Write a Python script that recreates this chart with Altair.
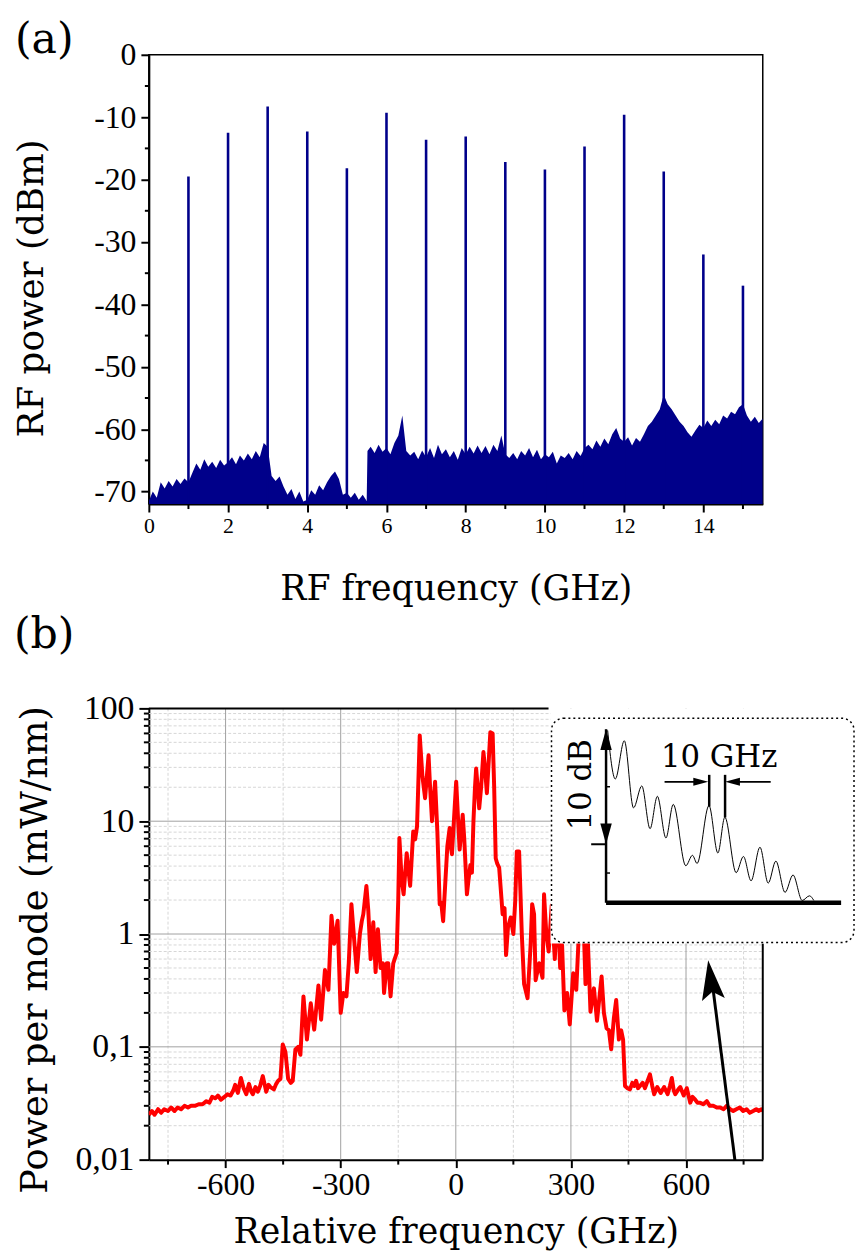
import altair as alt
import pandas as pd

# ---------------- panel (a) data ----------------
spike_ghz = [1, 2, 3, 4, 5, 6, 7, 8, 9, 10, 11, 12, 13, 14, 15]
spike_dbm = [-19.5, -12.5, -8.3, -12.3, -18.2, -9.3, -13.6, -13.1, -17.2, -18.4,
             -14.7, -9.6, -18.7, -32.0, -37.0]

floor_ghz = [0.0, 0.1, 0.2, 0.3, 0.4, 0.5, 0.6, 0.7, 0.8, 0.9,
             1.0, 1.1, 1.2, 1.3, 1.4, 1.5, 1.6, 1.7, 1.8, 1.9,
             2.0, 2.1, 2.2, 2.3, 2.4, 2.5, 2.6, 2.7, 2.8, 2.9,
             3.0, 3.1, 3.2, 3.3, 3.4, 3.5, 3.6, 3.7, 3.8, 3.9,
             4.0, 4.1, 4.2, 4.3, 4.4, 4.5, 4.6, 4.7, 4.8, 4.9,
             5.0, 5.1, 5.2, 5.3, 5.4, 5.5, 5.52, 5.6, 5.7, 5.8, 5.9,
             6.0, 6.1, 6.2, 6.3, 6.4, 6.5, 6.6, 6.7, 6.8, 6.9,
             7.0, 7.1, 7.2, 7.3, 7.4, 7.5, 7.6, 7.7, 7.8, 7.9,
             8.0, 8.1, 8.2, 8.3, 8.4, 8.5, 8.6, 8.7, 8.8, 8.9,
             9.0, 9.1, 9.2, 9.3, 9.4, 9.5, 9.6, 9.7, 9.8, 9.9,
             10.0, 10.1, 10.2, 10.3, 10.4, 10.5, 10.6, 10.7, 10.8, 10.9,
             11.0, 11.1, 11.2, 11.3, 11.4, 11.5, 11.6, 11.7, 11.8, 11.9,
             12.0, 12.1, 12.2, 12.3, 12.4, 12.5, 12.6, 12.7, 12.8, 12.9,
             13.0, 13.1, 13.2, 13.3, 13.4, 13.5, 13.6, 13.7, 13.8, 13.9,
             14.0, 14.1, 14.2, 14.3, 14.4, 14.5, 14.6, 14.7, 14.8, 14.9,
             15.0, 15.1, 15.2, 15.3, 15.4, 15.5]
floor_dbm = [-71.5, -70.0, -71.0, -68.5, -69.5, -68.3, -69.2, -68.0, -68.8, -67.9,
             -68.5, -67.0, -65.5, -66.5, -64.8, -66.0, -65.2, -66.2, -64.9, -65.8,
             -65.3, -64.5, -65.6, -64.2, -65.0, -63.9, -64.8, -63.5, -64.5, -62.2,
             -62.8, -67.5, -68.3, -67.6, -69.2, -70.5, -69.6, -71.2, -70.0, -71.6,
             -71.3, -69.8, -70.5, -69.0, -69.8, -68.5, -67.5, -66.8, -68.0, -70.5,
             -70.2, -71.0, -70.2, -71.3, -70.5, -71.5, -63.5, -62.8, -63.8, -62.5, -63.6,
             -63.0, -64.0, -62.2, -61.0, -57.8, -63.5, -64.2, -63.6, -64.8, -63.4,
             -64.5, -63.0, -64.6, -62.5, -64.0, -63.2, -64.5, -63.5, -64.9, -63.0,
             -64.0, -62.8, -63.9, -62.6, -63.8, -62.7, -64.0, -62.5, -63.5, -61.0,
             -64.0, -64.6, -63.8, -64.8, -63.5, -64.2, -63.0, -64.5, -63.3, -64.8,
             -64.0, -64.5, -63.6, -65.5, -64.2, -64.6, -63.8, -64.8, -63.5, -64.3,
             -63.0, -62.5, -63.2, -61.8, -62.8, -61.5, -62.4, -60.8, -59.8, -61.5,
             -62.0, -61.3, -62.6, -61.4, -62.0, -60.8, -59.5, -58.8, -57.8, -56.8,
             -54.5, -56.0, -56.8, -57.8, -58.8, -59.5, -60.5, -61.2, -60.2, -59.3,
             -59.8, -58.6, -59.5, -58.5, -59.2, -57.8, -58.3, -57.2, -57.6, -56.5,
             -56.0, -57.8, -58.8, -58.0, -59.0, -58.3]

a_xticks = [0, 2, 4, 6, 8, 10, 12, 14]
a_xminor = [1, 3, 5, 7, 9, 11, 13, 15]
a_yticks = [0, -10, -20, -30, -40, -50, -60, -70]
a_yminor = [-5, -15, -25, -35, -45, -55, -65]

# ---------------- panel (b) data ----------------
spec_ghz = [-800, -792, -785, -776, -768, -760, -750, -742, -733, -725, -716, -707, -698, -690,
            -680, -670, -660, -650, -642, -635, -627, -620, -612, -603, -595, -587, -580, -575,
            -568, -560, -553, -546, -539, -533, -529, -522, -516, -510, -503, -494, -488, -483,
            -474, -468, -463, -457, -451, -444, -437, -430, -425, -418, -411, -405, -397, -388,
            -378, -369, -358, -351, -341, -332, -324, -317, -308, -300, -293, -285, -279, -272,
            -265, -258, -250, -245, -241, -233, -228, -222, -215, -209, -203, -196, -190, -187,
            -180, -176, -170, -163, -154, -150, -147, -141, -136, -128, -119, -111, -106, -101,
            -94, -87, -80, -71, -67, -62, -54, -48, -42, -38, -33, -27, -22, -16, -13, -10, -5,
            1, 5, 10, 18, 22, 29, 33, 38, 42, 46, 50, 53, 57, 61, 66, 72, 76, 81, 86, 90, 96,
            100, 104, 108, 113, 122, 127, 131, 136, 143, 150, 155, 159, 165, 172, 178, 187, 195,
            199, 204, 208, 217, 226, 230, 236, 242, 250, 258, 265, 272, 277, 283, 290, 297, 306,
            314, 320, 327, 334, 338, 344, 351, 360, 368, 380, 386, 393, 399, 405, 412, 418, 425,
            431, 436, 441, 447, 454, 460, 465, 470, 475, 480, 487, 493, 500, 506, 512, 517, 525,
            534, 543, 552, 558, 563, 568, 572, 580, 585, 594, 602, 611, 617, 624, 630, 637, 645,
            654, 662, 671, 680, 689, 698, 706, 715, 723, 731, 740, 749, 758, 766, 775, 783, 790,
            796, 800]
spec_mw = [0.025, 0.027, 0.025, 0.028, 0.026, 0.028, 0.027, 0.029, 0.027, 0.029, 0.028, 0.030, 0.029, 0.030,
           0.030, 0.031, 0.031, 0.033, 0.032, 0.036, 0.035, 0.037, 0.034, 0.036, 0.038, 0.037, 0.041, 0.046,
           0.039, 0.053, 0.043, 0.038, 0.047, 0.040, 0.038, 0.044, 0.040, 0.045, 0.055, 0.040, 0.046, 0.044,
           0.042, 0.047, 0.050, 0.052, 0.105, 0.090, 0.052, 0.048, 0.050, 0.095, 0.100, 0.085, 0.28, 0.116,
           0.243, 0.142, 0.35, 0.174, 0.48, 0.32, 1.45, 0.82, 1.31, 0.20, 0.30, 0.28, 0.55, 1.84,
           0.90, 0.46, 1.00, 1.30, 1.50, 2.67, 1.60, 0.60, 1.27, 0.46, 1.10, 0.50, 0.55, 0.30,
           0.55, 0.55, 0.28, 0.55, 0.68, 2.0, 7.1, 3.0, 2.25, 5.2, 2.67, 8.1, 6.9, 9.0,
           57.5, 25.0, 16.0, 38.4, 20.0, 10.0, 22.4, 8.0, 1.84, 1.9, 1.3, 3.0, 6.0, 8.7, 6.0, 5.1, 10.0,
           22.4, 12.0, 5.6, 11.4, 7.0, 2.25, 3.0, 4.1, 3.5, 10.0, 20.0, 29.3, 20.0, 13.0, 20.0, 41.0, 30.0, 17.7, 35.0, 61.6, 60.0,
           20.0, 4.7, 4.2, 3.87, 1.5, 1.7, 0.65, 1.15, 1.4, 1.0, 2.0, 5.4, 5.4, 1.0, 0.36, 0.27, 0.8,
           1.84, 1.5, 0.39, 0.55, 0.41, 2.25, 1.0, 0.7, 1.8, 0.6, 2.0, 0.5, 0.8, 0.21, 0.30, 0.158, 0.45,
           0.32, 0.9, 1.3, 1.0, 0.36, 0.9, 0.205, 0.33, 0.17, 0.42, 0.20, 0.146, 0.14, 0.095, 0.18, 0.26, 0.116,
           0.14, 0.116, 0.045, 0.043, 0.042, 0.048, 0.045, 0.050, 0.043, 0.045, 0.048, 0.043, 0.050, 0.057, 0.045, 0.038, 0.044,
           0.039, 0.044, 0.038, 0.045, 0.053, 0.041, 0.038, 0.042, 0.044, 0.037, 0.043, 0.032, 0.036, 0.034, 0.032, 0.032, 0.031,
           0.033, 0.030, 0.030, 0.029, 0.029, 0.028, 0.030, 0.028, 0.027, 0.028, 0.029, 0.027, 0.028, 0.026, 0.027, 0.028, 0.027,
           0.028, 0.027]

b_xticks = [-600, -300, 0, 300, 600]
b_xminor = [-750, -450, -150, 150, 450, 750]
b_yticks = [0.01, 0.1, 1, 10, 100]
b_ygrid = [0.1, 1, 10]
b_yminor = [0.02, 0.03, 0.04, 0.05, 0.06, 0.07, 0.08, 0.09,
            0.2, 0.3, 0.4, 0.5, 0.6, 0.7, 0.8, 0.9,
            2, 3, 4, 5, 6, 7, 8, 9,
            20, 30, 40, 50, 60, 70, 80, 90]

# inset: relative frequency (GHz) vs relative level (dB)
inset_ghz = [1.0, 5.8, 11.5, 17.3, 22.5, 27.7, 32.3, 37.7, 42.3, 50.2, 54.4, 57.3, 64.8,
             70.4, 74.8, 81.9, 86.5, 91.3, 96.9, 102.1, 106.9, 112.7, 117.7, 123.5, 128.1, 130.8]
inset_db = [14.9, 10.7, 14.0, 8.2, 10.1, 6.4, 9.2, 5.6, 8.5, 3.2, 4.1, 3.4, 8.4,
            4.3, 7.4, 2.6, 4.0, 1.9, 4.8, 1.7, 3.6, 0.9, 2.4, 0.2, 0.6, 0.2]

# ---------------- styling ----------------
W, HA, HB = 619, 453, 455
NAVY = "#00008a"
RED = "#ff0000"
SERIF_T = "DejaVu Serif"
SERIF_L = "Liberation Serif"
one = pd.DataFrame({"k": [0]})
HYPHEN_LABEL = "datum.value < 0 ? '-' + format(-datum.value, 'd') : format(datum.value, 'd')"


def seg(x1, y1, x2, y2, width=2.0, color="black", dash=None):
    kw = dict(color=color, strokeWidth=width)
    if dash is not None:
        kw["strokeDash"] = dash
    return alt.Chart(one).mark_rule(**kw).encode(
        x=alt.value(x1), y=alt.value(y1), x2=alt.value(x2), y2=alt.value(y2))


ARROW = "M0,-1L0.55,1L-0.55,1Z"
BIGARROW = "M0,-1L0.58,1L0,0.6L-0.58,1Z"


def head(x, y, side, angle, shape=ARROW):
    return alt.Chart(one).mark_point(shape=shape, filled=True, size=side * side,
                                     angle=angle, color="black", opacity=1,
                                     strokeWidth=0).encode(
        x=alt.value(x), y=alt.value(y))


def label(txt, x, y, size, angle=0, align="center", baseline="middle", font=SERIF_T):
    return alt.Chart(pd.DataFrame({"t": [txt]})).mark_text(
        font=font, fontSize=size, angle=angle, align=align, baseline=baseline,
        color="black").encode(x=alt.value(x), y=alt.value(y), text="t:N")


# ---------------- panel (a) ----------------
xa = alt.X("f:Q", scale=alt.Scale(domain=[0, 15.5], nice=False, zero=False),
           axis=alt.Axis(values=a_xticks, title="RF frequency (GHz)", labelFontSize=22,
                         tickSize=8, labelPadding=4, titleFontSize=35, titleY=96,
                         titleBaseline="alphabetic", labelFlush=False, grid=False))
ya = alt.Y("p:Q", scale=alt.Scale(domain=[-72, 0], nice=False, zero=False),
           axis=alt.Axis(values=a_yticks, labelExpr=HYPHEN_LABEL, title="RF power (dBm)",
                         labelFontSize=32, tickSize=8, labelPadding=5, titleFontSize=36,
                         titleX=-107, titleY=235, titleAngle=270, titleBaseline="alphabetic",
                         titleAlign="center", labelFlush=False, grid=False))

floor_df = pd.DataFrame({"f": floor_ghz, "p": floor_dbm})
spike_df = pd.DataFrame({"f": spike_ghz, "p": spike_dbm})

area_a = alt.Chart(floor_df).mark_area(color=NAVY, clip=True).encode(
    x=xa, y=ya, y2=alt.datum(-72))
spikes_a = alt.Chart(spike_df).mark_rule(color=NAVY, strokeWidth=2.6).encode(
    x=xa, y=ya, y2=alt.datum(-72))
xminor_a = alt.Chart(pd.DataFrame({"f": a_xminor})).mark_rule(
    color="black", strokeWidth=2).encode(x=xa, y=alt.value(HA), y2=alt.value(HA + 5))
yminor_a = alt.Chart(pd.DataFrame({"p": a_yminor})).mark_rule(
    color="black", strokeWidth=2).encode(y=ya, x=alt.value(-4), x2=alt.value(0))
tag_a = label("(a)", -135, -36, 43, align="left", baseline="top")

panel_a = alt.layer(area_a, spikes_a, xminor_a, yminor_a, tag_a).properties(
    width=W, height=HA, view=alt.ViewBackground(stroke="black", strokeWidth=1.5))

# ---------------- panel (b) ----------------
xb = alt.X("f:Q", scale=alt.Scale(domain=[-800, 800], nice=False, zero=False),
           axis=alt.Axis(values=b_xticks, labelExpr=HYPHEN_LABEL,
                         title="Relative frequency (GHz)", labelFontSize=32,
                         tickSize=8, labelPadding=2, titleFontSize=35, titleY=84,
                         titleBaseline="alphabetic", labelFlush=False, grid=False))
yb = alt.Y("v:Q", scale=alt.Scale(type="log", domain=[0.01, 100], nice=False),
           axis=alt.Axis(values=b_yticks,
                         labelExpr="replace(format(datum.value, '~g'), '.', ',')",
                         title="Power per mode (mW/nm)", labelFontSize=34, tickSize=10,
                         labelPadding=5, titleFontSize=37, titleX=-103, titleY=243,
                         titleAngle=270, titleBaseline="alphabetic", titleAlign="center",
                         labelOverlap=False, labelFlush=False, grid=False))

GRID_MINOR = dict(color="#d6d6d6", strokeWidth=1, strokeDash=[3, 2])
GRID_MAJOR = dict(color="#a0a0a0", strokeWidth=1)

vgm = alt.Chart(pd.DataFrame({"f": b_xminor})).mark_rule(**GRID_MINOR).encode(
    x=xb, y=alt.value(0), y2=alt.value(HB))
hgm = alt.Chart(pd.DataFrame({"v": b_yminor})).mark_rule(**GRID_MINOR).encode(
    y=yb, x=alt.value(0), x2=alt.value(W))
vgM = alt.Chart(pd.DataFrame({"f": b_xticks})).mark_rule(**GRID_MAJOR).encode(
    x=xb, y=alt.value(0), y2=alt.value(HB))
hgM = alt.Chart(pd.DataFrame({"v": b_ygrid})).mark_rule(**GRID_MAJOR).encode(
    y=yb, x=alt.value(0), x2=alt.value(W))

spec_df = pd.DataFrame({"f": spec_ghz, "v": spec_mw})
curve_b = alt.Chart(spec_df).mark_line(color=RED, strokeWidth=4, clip=True,
                                       strokeJoin="round").encode(x=xb, y=yb)

yminor_b = alt.Chart(pd.DataFrame({"v": b_yminor})).mark_rule(
    color="black", strokeWidth=2).encode(y=yb, x=alt.value(-5), x2=alt.value(0))
xminor_b = alt.Chart(pd.DataFrame({"f": b_xminor})).mark_rule(
    color="black", strokeWidth=2).encode(x=xb, y=alt.value(HB), y2=alt.value(HB + 5))

main_b = alt.layer(vgm, hgm, vgM, hgM, curve_b, yminor_b, xminor_b)

# frame pieces, inset box
frame_top = seg(0, 0, 403, 0, width=2)
frame_right = seg(W, 237, W, HB, width=2)
cover = alt.Chart(one).mark_rect(color="white").encode(
    x=alt.value(405), x2=alt.value(712), y=alt.value(0), y2=alt.value(237))
box = alt.Chart(one).mark_rect(fill="white", fillOpacity=0, stroke="black",
                               strokeWidth=1.5, strokeDash=[2, 3],
                               cornerRadius=12).encode(
    x=alt.value(406), x2=alt.value(711), y=alt.value(10), y2=alt.value(236))

inset_df = pd.DataFrame({"g": inset_ghz, "d": inset_db})
inset_curve = alt.Chart(inset_df).mark_line(color="black", strokeWidth=1,
                                            interpolate="monotone").encode(
    x=alt.X("g:Q", scale=alt.Scale(domain=[0, 148], range=[461, 698], nice=False, zero=False),
            axis=None),
    y=alt.Y("d:Q", scale=alt.Scale(domain=[0, 15], range=[196, 21], nice=False, zero=False),
            axis=None))

inset_parts = [
    seg(461, 21, 461, 196, width=2.5),           # inset y axis
    seg(461, 196, 698, 196, width=4.5),          # inset x axis
    seg(446, 137, 461, 137, width=2),            # 5 dB tick
    seg(461, 79, 465, 79, width=1.5),
    seg(461, 166, 465, 166, width=1.5),
    head(461, 31.5, 21, 0),                      # up arrow head
    head(461, 126.5, 21, 180),                   # down arrow head
    seg(565, 67, 565, 99, width=2.5),            # 10 GHz markers
    seg(581, 67, 581, 110, width=2.5),
    seg(520, 74, 557, 74, width=1.8),            # left arrow shaft
    head(556.5, 74, 15, 90),
    seg(588, 74, 627, 74, width=1.8),            # right arrow shaft
    head(588.5, 74, 15, 270),
    label("10 GHz", 575, 59, 31, baseline="alphabetic"),
    label("10 dB", 437, 77, 31, angle=270),
    seg(591, 456, 569, 284, width=3),            # big arrow shaft
    head(566.6, 273.8, 40, 352.4, shape=BIGARROW),
    label("(b)", -136, -95, 43, align="left", baseline="top"),
]

panel_b = alt.layer(main_b, frame_top, frame_right, cover, box, inset_curve,
                    *inset_parts).resolve_scale(
    x="independent", y="independent").properties(width=W, height=HB)

chart = alt.vconcat(panel_a, panel_b, spacing=206, bounds="flush").properties(
    padding={"left": 5, "top": 5, "right": 0, "bottom": 5}
).configure_view(strokeWidth=0).configure_axis(
    labelFont=SERIF_L, titleFont=SERIF_T, labelColor="black", titleColor="black",
    titleFontWeight="normal", domainColor="black", domainWidth=2, tickColor="black",
    tickWidth=2
)

chart.save("out.html", embed_options={"renderer": "svg", "actions": False})
